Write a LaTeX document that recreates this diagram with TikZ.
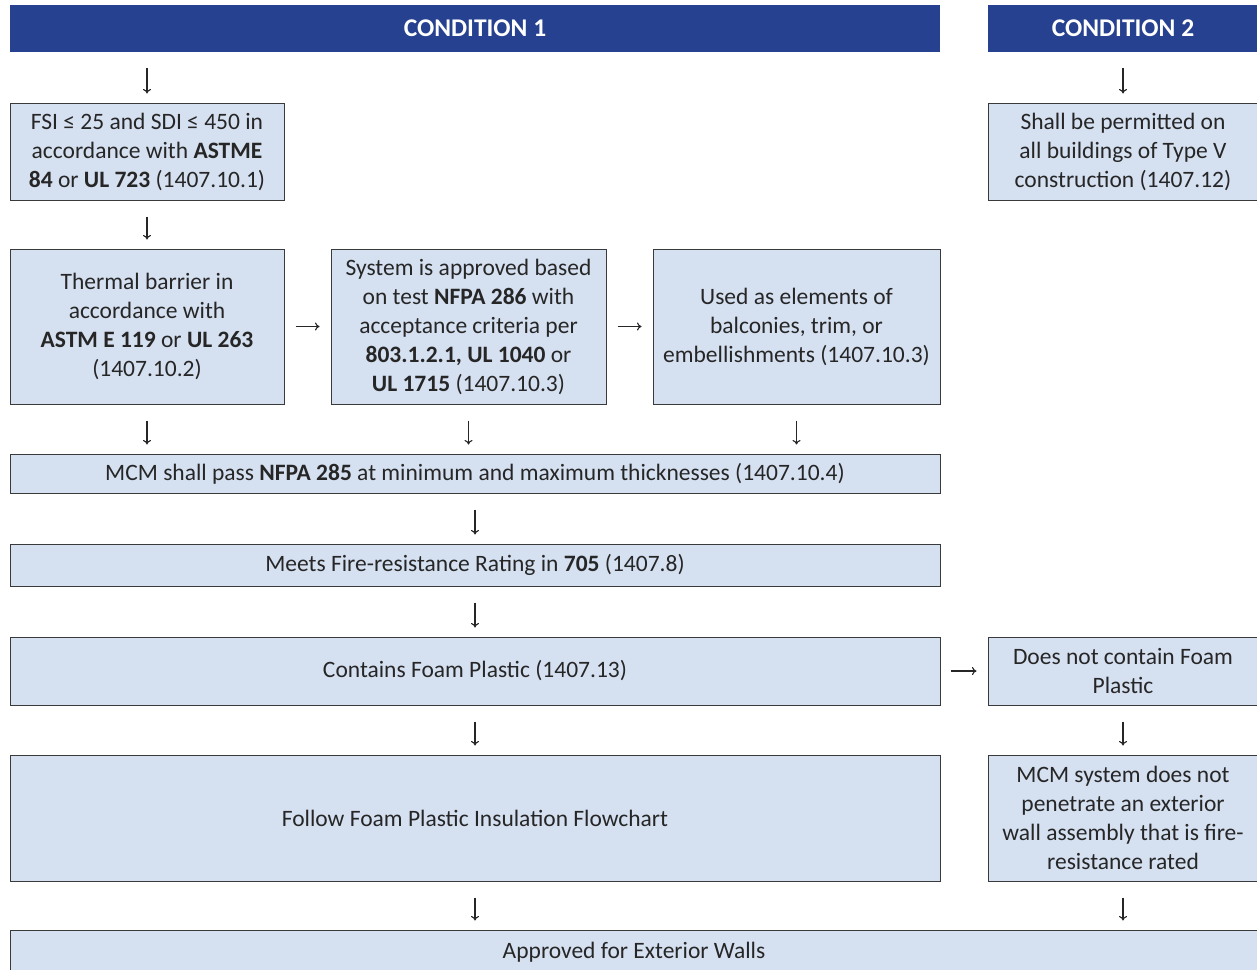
\documentclass[tikz,border=0pt]{standalone}
\usepackage{fontspec}
\setmainfont{Carlito}
\usetikzlibrary{arrows.meta}
\definecolor{hdr}{HTML}{25418F}
\definecolor{boxfill}{HTML}{D5E0F1}
\definecolor{boxline}{HTML}{3A3A3A}
\begin{document}
\begin{tikzpicture}[x=1pt,y=-1pt,
  font=\fontsize{23.5}{29}\selectfont,
  hdrbox/.style={fill=hdr, text=white, font=\fontsize{25.5}{29}\selectfont\bfseries, inner sep=0pt, anchor=center},
  fbox/.style={fill=boxfill, draw=boxline, line width=1pt, inner sep=0pt, align=center, anchor=center, text=black!85},
  arr/.style={-{To[length=4.5pt,width=8pt]}, line width=1.1pt, black!85},
  varr/.style={arr, shorten <=16pt, shorten >=9pt},
  harr/.style={arr, shorten <=11pt, shorten >=11pt}]
\useasboundingbox (0,0) rectangle (1257,969);
% headers
\node[hdrbox, minimum width=930pt, minimum height=47pt] (h1) at (475,28.5) {CONDITION 1};
\node[hdrbox, minimum width=270pt, minimum height=47pt] (h2) at (1123,28.5) {CONDITION 2};
% boxes
\node[fbox, minimum width=274pt, minimum height=97pt] (fsi) at (147,151.5)
  {FSI ≤ 25 and SDI ≤ 450 in\\accordance with \textbf{ASTME}\\\textbf{84} or \textbf{UL 723} (1407.10.1)};
\node[fbox, minimum width=270pt, minimum height=97pt] (perm) at (1123,151.5)
  {Shall be permitted on\\all buildings of Type V\\construction (1407.12)};
\node[fbox, minimum width=274pt, minimum height=155pt] (therm) at (147,326.5)
  {Thermal barrier in\\accordance with\\\textbf{ASTM E 119} or \textbf{UL 263}\\(1407.10.2)};
\node[fbox, minimum width=275pt, minimum height=155pt] (sys) at (468.5,326.5)
  {System is approved based\\on test \textbf{NFPA 286} with\\acceptance criteria per\\\textbf{803.1.2.1, UL 1040} or\\\textbf{UL 1715} (1407.10.3)};
\node[fbox, minimum width=287pt, minimum height=155pt] (used) at (796.5,326.5)
  {Used as elements of\\balconies, trim, or\\embellishments (1407.10.3)};
\node[fbox, minimum width=930pt, minimum height=39pt] (mcm) at (475,473.5)
  {MCM shall pass \textbf{NFPA 285} at minimum and maximum thicknesses (1407.10.4)};
\node[fbox, minimum width=930pt, minimum height=42pt] (meets) at (475,565)
  {Meets Fire-resistance Rating in \textbf{705} (1407.8)};
\node[fbox, minimum width=930pt, minimum height=68pt] (foam) at (475,671)
  {Contains Foam Plastic (1407.13)};
\node[fbox, minimum width=270pt, minimum height=68pt] (nofoam) at (1123,671)
  {Does not contain Foam\\Plastic};
\node[fbox, minimum width=930pt, minimum height=126pt] (follow) at (475,818)
  {Follow Foam Plastic Insulation Flowchart};
\node[fbox, minimum width=270pt, minimum height=126pt] (pen) at (1123,818)
  {MCM system does not\\penetrate an exterior\\wall assembly that is fire-\\resistance rated};
\node[fbox, minimum width=1248pt, minimum height=45pt] (appr) at (634,952.5)
  {Approved for Exterior Walls};
% arrows
\draw[varr] (h1.south -| fsi.north) -- (fsi.north);
\draw[varr] (h2.south) -- (perm.north);
\draw[varr] (fsi.south) -- (therm.north);
\draw[harr] (therm.east) -- (sys.west);
\draw[harr] (sys.east) -- (used.west);
\draw[varr] (therm.south) -- (therm.south |- mcm.north);
\draw[varr] (sys.south) -- (sys.south |- mcm.north);
\draw[varr] (used.south) -- (used.south |- mcm.north);
\draw[varr] (mcm.south) -- (meets.north);
\draw[varr] (meets.south) -- (foam.north);
\draw[harr, shorten <=10pt] (foam.east) -- (nofoam.west);
\draw[varr] (foam.south) -- (follow.north);
\draw[varr] (nofoam.south) -- (pen.north);
\draw[varr] (follow.south) -- (follow.south |- appr.north);
\draw[varr] (pen.south) -- (pen.south |- appr.north);
\end{tikzpicture}
\end{document}
